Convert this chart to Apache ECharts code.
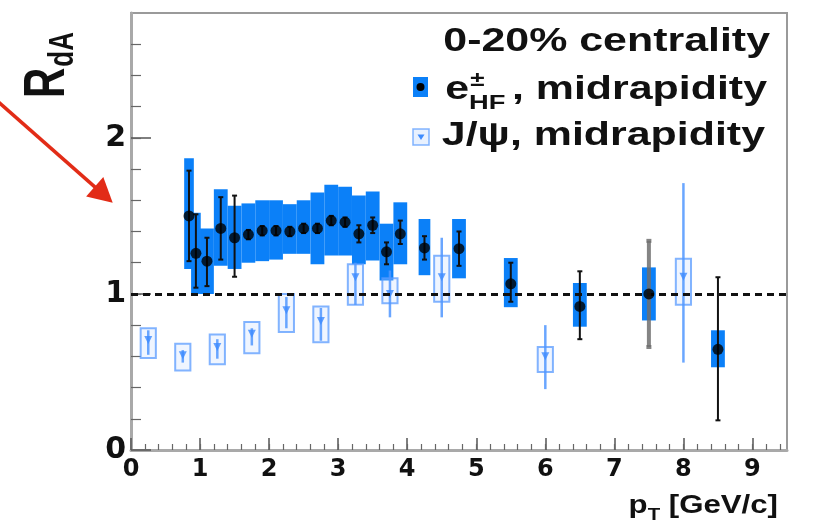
<!DOCTYPE html>
<html>
<head>
<meta charset="utf-8">
<script src="https://cdn.jsdelivr.net/npm/echarts@6/dist/echarts.min.js"></script>
<style>
  html, body { margin: 0; padding: 0; background: #fff; }
  #chart { width: 817px; height: 530px; }
</style>
</head>
<body>
<div id="chart"></div>
<script>
// Heavy-flavour electrons e±_HF, midrapidity, 0-20% centrality
const ehfPt      = [0.84, 0.94, 1.1, 1.3, 1.5, 1.7, 1.9, 2.1, 2.3, 2.5, 2.7, 2.9, 3.1, 3.3, 3.5, 3.7, 3.9, 4.25, 4.75, 5.5, 6.5, 7.5, 8.5];
const ehfR       = [1.50, 1.26, 1.21, 1.42, 1.36, 1.38, 1.405, 1.405, 1.40, 1.42, 1.42, 1.47, 1.46, 1.385, 1.44, 1.27, 1.385, 1.295, 1.29, 1.065, 0.92, 1.00, 0.645];
const ehfStatLo  = [1.21, 1.04, 1.05, 1.22, 1.11, 1.35, 1.375, 1.375, 1.37, 1.39, 1.39, 1.44, 1.43, 1.33, 1.39, 1.19, 1.32, 1.22, 1.18, 0.95, 0.71, 0.66, 0.19];
const ehfStatHi  = [1.79, 1.51, 1.36, 1.62, 1.63, 1.41, 1.435, 1.435, 1.43, 1.45, 1.45, 1.50, 1.49, 1.44, 1.49, 1.33, 1.47, 1.37, 1.40, 1.20, 1.145, 1.34, 1.107];
const ehfSysLo   = [1.16, 1.00, 1.00, 1.18, 1.16, 1.20, 1.21, 1.22, 1.257, 1.257, 1.19, 1.246, 1.246, 1.19, 1.214, 1.086, 1.19, 1.12, 1.10, 0.915, 0.79, 0.83, 0.53];
const ehfSysHi   = [1.87, 1.52, 1.42, 1.67, 1.565, 1.58, 1.60, 1.60, 1.575, 1.60, 1.65, 1.70, 1.687, 1.63, 1.657, 1.45, 1.587, 1.48, 1.48, 1.23, 1.07, 1.17, 0.767];
const ehfBinHalf = [0.07, 0.07, 0.1, 0.1, 0.1, 0.1, 0.1, 0.1, 0.1, 0.1, 0.1, 0.1, 0.1, 0.1, 0.1, 0.1, 0.1, 0.085, 0.1, 0.1, 0.1, 0.1, 0.1];

// J/psi, midrapidity, 0-20% centrality
const jpsiPt     = [0.25, 0.75, 1.25, 1.75, 2.25, 2.75, 3.25, 3.75, 4.5, 6.0, 8.0];
const jpsiR      = [0.705, 0.607, 0.66, 0.745, 0.895, 0.826, 1.107, 1.00, 1.107, 0.60, 1.11];
const jpsiStatLo = [0.61, 0.56, 0.585, 0.67, 0.78, 0.70, 0.93, 0.85, 0.85, 0.39, 0.56];
const jpsiStatHi = [0.767, 0.64, 0.71, 0.78, 0.98, 0.91, 1.20, 1.15, 1.36, 0.80, 1.71];
const jpsiSysLo  = [0.59, 0.51, 0.55, 0.62, 0.756, 0.69, 0.93, 0.94, 0.95, 0.50, 0.93];
const jpsiSysHi  = [0.78, 0.68, 0.74, 0.82, 1.00, 0.92, 1.19, 1.10, 1.245, 0.66, 1.225];
const jpsiBinHalf = 0.11;

// Axis ticks and labels
const xTickLabels = [0, 1, 2, 3, 4, 5, 6, 7, 8, 9];
const yTickLabels = [0, 1, 2];
const X_MIN = 0, X_MAX = 9.5, Y_MIN = 0, Y_MAX = 2.8;
const X_MINOR_STEP = 0.2, Y_MINOR_STEP = 0.2;

// The e±_HF point whose statistical bar is drawn in grey
const GREY_STAT_PT = 7.5;

const FONT = '"Liberation Sans", Arial, Helvetica, sans-serif';
const TICK_FONT = '"DejaVu Sans", "Liberation Sans", Arial, sans-serif';
const EHF_BLUE = '#0b80f8';
const JPSI_LINE = 'rgba(80,150,255,0.85)';
const JPSI_BOX = 'rgba(90,155,255,0.75)';

function steps(min, max, step) {
  const out = [];
  const n = Math.round((max - min) / step);
  for (let k = 0; k <= n; k++) out.push(+(min + k * step).toFixed(4));
  return out;
}
const xMinor = steps(X_MIN, X_MAX, X_MINOR_STEP).filter(v => v > X_MIN && v < X_MAX);
const yMinor = steps(Y_MIN, Y_MAX, Y_MINOR_STEP).filter(v => v > Y_MIN && v < Y_MAX);

const ehfSysData  = ehfPt.map((x, i) => [x, ehfSysLo[i], ehfSysHi[i], ehfBinHalf[i]]);
const ehfStatData = ehfPt.map((x, i) => [x, ehfStatLo[i], ehfStatHi[i]]);
const ehfPoints   = ehfPt.map((x, i) => [x, ehfR[i]]);
const jpsiSysData  = jpsiPt.map((x, i) => [x, jpsiSysLo[i], jpsiSysHi[i], jpsiBinHalf]);
const jpsiStatData = jpsiPt.map((x, i) => [x, jpsiStatLo[i], jpsiStatHi[i]]);
const jpsiPoints   = jpsiPt.map((x, i) => [x, jpsiR[i]]);

function boxRenderer(fill, stroke, lineWidth) {
  return function (params, api) {
    const x = api.value(0), lo = api.value(1), hi = api.value(2), dx = api.value(3);
    const p1 = api.coord([x - dx, hi]);
    const p2 = api.coord([x + dx, lo]);
    return {
      type: 'rect',
      shape: { x: p1[0], y: p1[1], width: p2[0] - p1[0], height: p2[1] - p1[1] },
      style: { fill: fill, stroke: stroke, lineWidth: lineWidth }
    };
  };
}

function barRenderer(colorFor, widthFor, cap) {
  return function (params, api) {
    const x = api.value(0), lo = api.value(1), hi = api.value(2);
    const a = api.coord([x, hi]);
    const b = api.coord([x, lo]);
    const color = colorFor(x), w = widthFor(x);
    const st = { stroke: color, lineWidth: w };
    const kids = [{ type: 'line', shape: { x1: a[0], y1: a[1], x2: b[0], y2: b[1] }, style: st }];
    if (cap > 0) {
      kids.push({ type: 'line', shape: { x1: a[0] - cap, y1: a[1], x2: a[0] + cap, y2: a[1] }, style: st });
      kids.push({ type: 'line', shape: { x1: b[0] - cap, y1: b[1], x2: b[0] + cap, y2: b[1] }, style: st });
    }
    return { type: 'group', children: kids };
  };
}

// text width helper for composing sub/superscripts
const measureCtx = document.createElement('canvas').getContext('2d');
function textWidth(str, size) {
  measureCtx.font = 'bold ' + size + 'px ' + FONT;
  return measureCtx.measureText(str).width;
}

// ---- legend block (top right) ----
const LEG_SIZE = 33, LEG_SX = 1.3;
const wMid = textWidth(', midrapidity', LEG_SIZE);
const wHF = textWidth('HF', 21);
const hfRight = -wMid - 5;
function txt(str, x, y, size, align, extra) {
  return Object.assign({
    type: 'text', x: x, y: y,
    style: { text: str, font: 'bold ' + size + 'px ' + FONT, fill: '#111', align: align, verticalAlign: 'middle' }
  }, extra || {});
}
const legendGroup = [
  { type: 'group', x: 770, y: 42, scaleX: LEG_SX, children: [txt('0-20% centrality', 0, 0, LEG_SIZE, 'right')] },
  { type: 'group', x: 767, y: 90, scaleX: LEG_SX, children: [
      txt(', midrapidity', 0, 0, LEG_SIZE, 'right'),
      txt('HF', hfRight, 13, 21, 'right'),
      txt('±', hfRight - wHF + 1, -10, 20, 'left'),
      txt('e', hfRight - wHF, 0, LEG_SIZE, 'right')
  ] },
  { type: 'group', x: 765, y: 136, scaleX: LEG_SX, children: [txt('J/ψ, midrapidity', 0, 0, LEG_SIZE, 'right')] },
  // legend glyphs
  { type: 'rect', shape: { x: 413, y: 77, width: 15, height: 20 }, style: { fill: EHF_BLUE } },
  { type: 'circle', shape: { cx: 420.5, cy: 87, r: 4 }, style: { fill: '#000' } },
  { type: 'rect', shape: { x: 413, y: 129, width: 16, height: 16 }, style: { fill: 'rgba(190,215,255,0.35)', stroke: JPSI_BOX, lineWidth: 1.5 } },
  { type: 'polygon', shape: { points: [[417.5, 134.5], [424.5, 134.5], [421, 140]] }, style: { fill: '#3d8bff' } }
];

// ---- axis titles ----
const yTitle = {
  type: 'group', x: 48, y: 98, rotation: Math.PI / 2, scaleY: 1.35,
  children: [
    txt('R', 0, 0, 42, 'left'),
    txt('dA', textWidth('R', 42) + 1, 11, 26, 'left')
  ]
};
const xTitle = {
  type: 'group', x: 778, y: 506, scaleX: 1.2,
  children: [
    txt(' [GeV/c]', 0, 0, 26, 'right'),
    txt('T', -textWidth(' [GeV/c]', 26), 9, 17, 'right'),
    txt('p', -textWidth(' [GeV/c]', 26) - textWidth('T', 17), 0, 26, 'right')
  ]
};

// ---- red annotation arrow pointing at the axis ----
const arrowFrom = [-6, 98], arrowTip = [112.7, 202.7];
const aLen = Math.hypot(arrowTip[0] - arrowFrom[0], arrowTip[1] - arrowFrom[1]);
const ux = (arrowTip[0] - arrowFrom[0]) / aLen, uy = (arrowTip[1] - arrowFrom[1]) / aLen;
const headLen = 24, headHalf = 13;
const base = [arrowTip[0] - ux * headLen, arrowTip[1] - uy * headLen];
const arrow = [
  { type: 'line', shape: { x1: arrowFrom[0], y1: arrowFrom[1], x2: base[0] + ux * 2, y2: base[1] + uy * 2 },
    style: { stroke: '#e22c17', lineWidth: 3.5 } },
  { type: 'polygon', shape: { points: [arrowTip, [base[0] - uy * headHalf, base[1] + ux * headHalf], [base[0] + uy * headHalf, base[1] - ux * headHalf]] },
    style: { fill: '#e22c17' } }
];

const axisCommon = { type: 'value', splitLine: { show: false } };

const option = {
  animation: false,
  backgroundColor: '#fff',
  grid: { left: 131, right: 30, top: 13, bottom: 80, show: true, borderColor: '#9a9a9a', borderWidth: 2 },
  xAxis: [
    Object.assign({}, axisCommon, {
      min: X_MIN, max: X_MAX, interval: 1,
      axisLine: { show: true, lineStyle: { color: '#a9a9a9', width: 3 } },
      axisTick: { show: true, inside: true, length: 12, customValues: xTickLabels, lineStyle: { color: '#555', width: 1.5 } },
      axisLabel: { show: true, customValues: xTickLabels, fontFamily: TICK_FONT, fontWeight: 'bold', fontSize: 24, color: '#111', margin: 8 }
    }),
    Object.assign({}, axisCommon, {
      min: X_MIN, max: X_MAX, interval: 1, position: 'bottom',
      axisLine: { show: false },
      axisTick: { show: true, inside: true, length: 6, customValues: xMinor, lineStyle: { color: '#666', width: 1.2 } },
      axisLabel: { show: false }
    })
  ],
  yAxis: [
    Object.assign({}, axisCommon, {
      min: Y_MIN, max: Y_MAX, interval: 1,
      axisLine: { show: true, lineStyle: { color: '#a9a9a9', width: 3 } },
      axisTick: { show: true, inside: true, length: 20, customValues: yTickLabels, lineStyle: { color: '#555', width: 1.5 } },
      axisLabel: { show: true, customValues: yTickLabels, fontFamily: TICK_FONT, fontWeight: 'bold', fontSize: 30, color: '#111', margin: 5 }
    }),
    Object.assign({}, axisCommon, {
      min: Y_MIN, max: Y_MAX, interval: 1, position: 'left',
      axisLine: { show: false },
      axisTick: { show: true, inside: true, length: 10, customValues: yMinor, lineStyle: { color: '#666', width: 1.2 } },
      axisLabel: { show: false }
    })
  ],
  series: [
    {
      name: 'e±HF sys', type: 'custom', z: 2, data: ehfSysData,
      encode: { x: 0, y: [1, 2] },
      renderItem: boxRenderer(EHF_BLUE, null, 0)
    },
    {
      name: 'J/psi sys', type: 'custom', z: 3, data: jpsiSysData,
      encode: { x: 0, y: [1, 2] },
      renderItem: boxRenderer('rgba(190,215,255,0.25)', JPSI_BOX, 2)
    },
    {
      name: 'J/psi stat', type: 'custom', z: 3, data: jpsiStatData,
      encode: { x: 0, y: [1, 2] },
      renderItem: barRenderer(() => JPSI_LINE, () => 2.5, 0),
      markLine: {
        silent: true, symbol: 'none', label: { show: false },
        lineStyle: { color: '#111', type: [7, 5], width: 3 },
        data: [{ yAxis: 1 }]
      }
    },
    {
      name: 'J/psi', type: 'scatter', z: 4, data: jpsiPoints,
      symbol: 'triangle', symbolRotate: 180, symbolSize: 8,
      itemStyle: { color: '#3d8bff' }
    },
    {
      name: 'e±HF stat', type: 'custom', z: 5, data: ehfStatData,
      encode: { x: 0, y: [1, 2] },
      renderItem: barRenderer(
        x => (x === GREY_STAT_PT ? 'rgba(110,110,110,0.85)' : '#111'),
        x => (x === GREY_STAT_PT ? 4 : 2), 2.5)
    },
    {
      name: 'e±HF', type: 'scatter', z: 6, data: ehfPoints,
      symbol: 'circle', symbolSize: 11,
      itemStyle: { color: '#000' }
    }
  ],
  graphic: { elements: [].concat(legendGroup, [yTitle, xTitle], arrow) }
};

const chart = echarts.init(document.getElementById('chart'));
chart.setOption(option);
</script>
</body>
</html>
